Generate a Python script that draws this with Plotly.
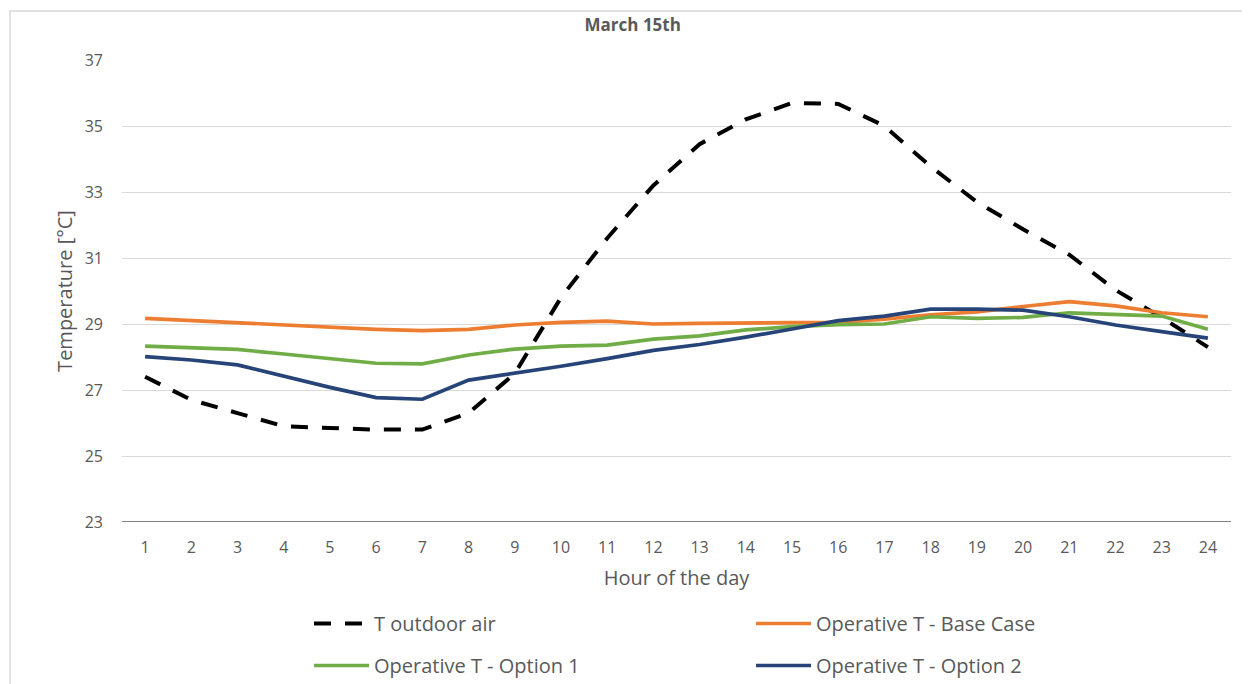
import plotly.graph_objects as go

hours = list(range(1, 25))
t_outdoor = [27.4, 26.7, 26.3, 25.9, 25.85, 25.8, 25.8, 26.3, 27.5, 29.8, 31.6, 33.2,
             34.45, 35.2, 35.7, 35.67, 35.0, 33.77, 32.7, 31.87, 31.1, 30.03, 29.2, 28.3]
base_case = [29.17, 29.1, 29.04, 28.97, 28.9, 28.84, 28.8, 28.84, 28.97, 29.05, 29.09, 29.0,
             29.02, 29.04, 29.04, 29.05, 29.15, 29.28, 29.37, 29.53, 29.68, 29.55, 29.34, 29.22]
option1 = [28.33, 28.29, 28.23, 28.09, 27.95, 27.81, 27.79, 28.06, 28.24, 28.33, 28.36, 28.54,
           28.64, 28.82, 28.92, 28.98, 29.0, 29.22, 29.17, 29.2, 29.34, 29.3, 29.24, 28.84]
option2 = [28.01, 27.91, 27.76, 27.41, 27.08, 26.77, 26.72, 27.3, 27.5, 27.72, 27.95, 28.2,
           28.38, 28.6, 28.85, 29.1, 29.24, 29.45, 29.45, 29.42, 29.22, 28.97, 28.77, 28.57]
y_ticks = [23, 25, 27, 29, 31, 33, 35, 37]

FONT = "Open Sans"
TXT = "#595959"

# figure is placed 8px in from the page's top-left corner (default body margin)
W, H = 1242, 676
L, T, R, B = 114, 52, 19, 162
PW, PH = W - L - R, H - T - B

fig = go.Figure()
fig.add_trace(go.Scatter(x=hours, y=t_outdoor, mode="lines", name="T outdoor air",
                         line=dict(color="black", width=4, dash="17px,14px"), legend="legend"))
fig.add_trace(go.Scatter(x=hours, y=base_case, mode="lines", name="Operative T - Base Case",
                         line=dict(color="#ED7D31", width=3.7), legend="legend"))
fig.add_trace(go.Scatter(x=hours, y=option1, mode="lines", name="Operative T - Option 1",
                         line=dict(color="#70AD47", width=3.7), legend="legend2"))
fig.add_trace(go.Scatter(x=hours, y=option2, mode="lines", name="Operative T - Option 2",
                         line=dict(color="#264478", width=3.7), legend="legend2"))

leg_common = dict(orientation="h", xanchor="left", yanchor="top",
                  entrywidth=372, entrywidthmode="pixels", itemwidth=55,
                  font=dict(family=FONT, size=20, color=TXT), bgcolor="rgba(0,0,0,0)",
                  traceorder="normal")

fig.update_layout(
    width=W, height=H,
    margin=dict(l=L, r=R, t=T, b=B, autoexpand=False),
    paper_bgcolor="white", plot_bgcolor="white",
    font=dict(family=FONT, color=TXT, size=16),
    title=dict(text="<b>March 15th</b>", x=0.503, xref="container", xanchor="center",
               y=0.975, yref="container", yanchor="middle",
               font=dict(family=FONT, size=17, color=TXT)),
    xaxis=dict(range=[0.5, 24.5], tickmode="array", tickvals=hours,
               ticktext=[str(h) for h in hours], showgrid=False, zeroline=False,
               showline=False, ticks="", ticklabelstandoff=14,
               tickfont=dict(size=16, color=TXT),
               title=dict(text="Hour of the day", font=dict(size=20, color=TXT), standoff=13)),
    yaxis=dict(range=[23, 37], tickmode="array", tickvals=y_ticks,
               showgrid=True, gridcolor="#D9D9D9", gridwidth=1, zeroline=False,
               showline=False, ticks="", ticklabelstandoff=18,
               tickfont=dict(size=16, color=TXT),
               title=dict(text="Temperature [°C]", font=dict(size=20, color=TXT), standoff=6)),
    legend=dict(x=(301 - L) / PW, y=(T + PH - 596) / PH, **leg_common),
    legend2=dict(x=(301 - L) / PW, y=(T + PH - 638) / PH, **leg_common),
    showlegend=True,
)

# dark baseline at the 23 gridline
fig.add_shape(type="line", xref="paper", yref="y", x0=0, x1=1, y0=23, y1=23,
              line=dict(color="#595959", width=1.5))
# light chart border
fig.add_shape(type="rect", xref="paper", yref="paper",
              x0=(2 - L) / PW, x1=(1237 - L) / PW,
              y0=-0.5, y1=(T + PH - 3) / PH,
              line=dict(color="#D9D9D9", width=1.5), fillcolor="rgba(0,0,0,0)", layer="below")

fig.write_html("out.html")
